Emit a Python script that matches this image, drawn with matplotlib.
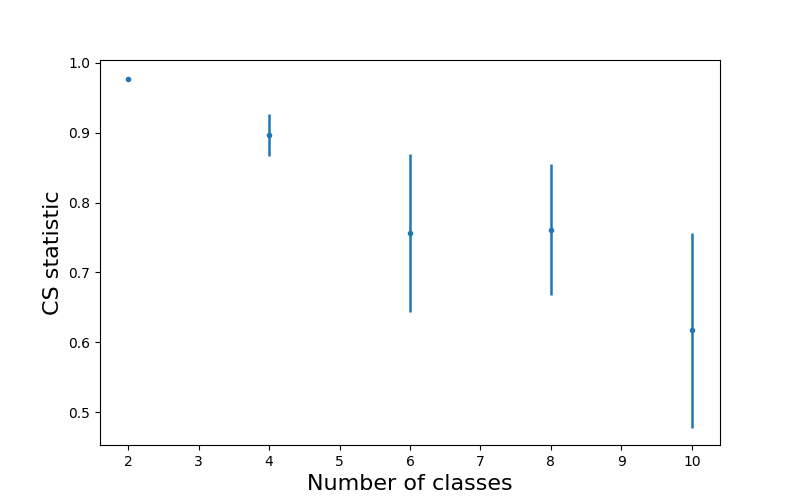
import numpy as np
import matplotlib
matplotlib.use('Agg')
import matplotlib.pyplot as plt

n_classes = [2, 4, 6, 8, 10]
cs_mean = [0.977, 0.897, 0.757, 0.761, 0.617]
cs_err = [0.002, 0.030, 0.113, 0.094, 0.139]

fig = plt.figure(figsize=(8, 5), dpi=100)
ax = fig.add_subplot(1, 1, 1)

# Mean CS statistic with spread
ax.errorbar(n_classes, cs_mean, yerr=cs_err, fmt='.', color='tab:blue', elinewidth=1.8)

ax.set_xlabel('Number of classes', fontsize=16)
ax.set_ylabel('CS statistic', fontsize=16)

fig.savefig('out.png')
